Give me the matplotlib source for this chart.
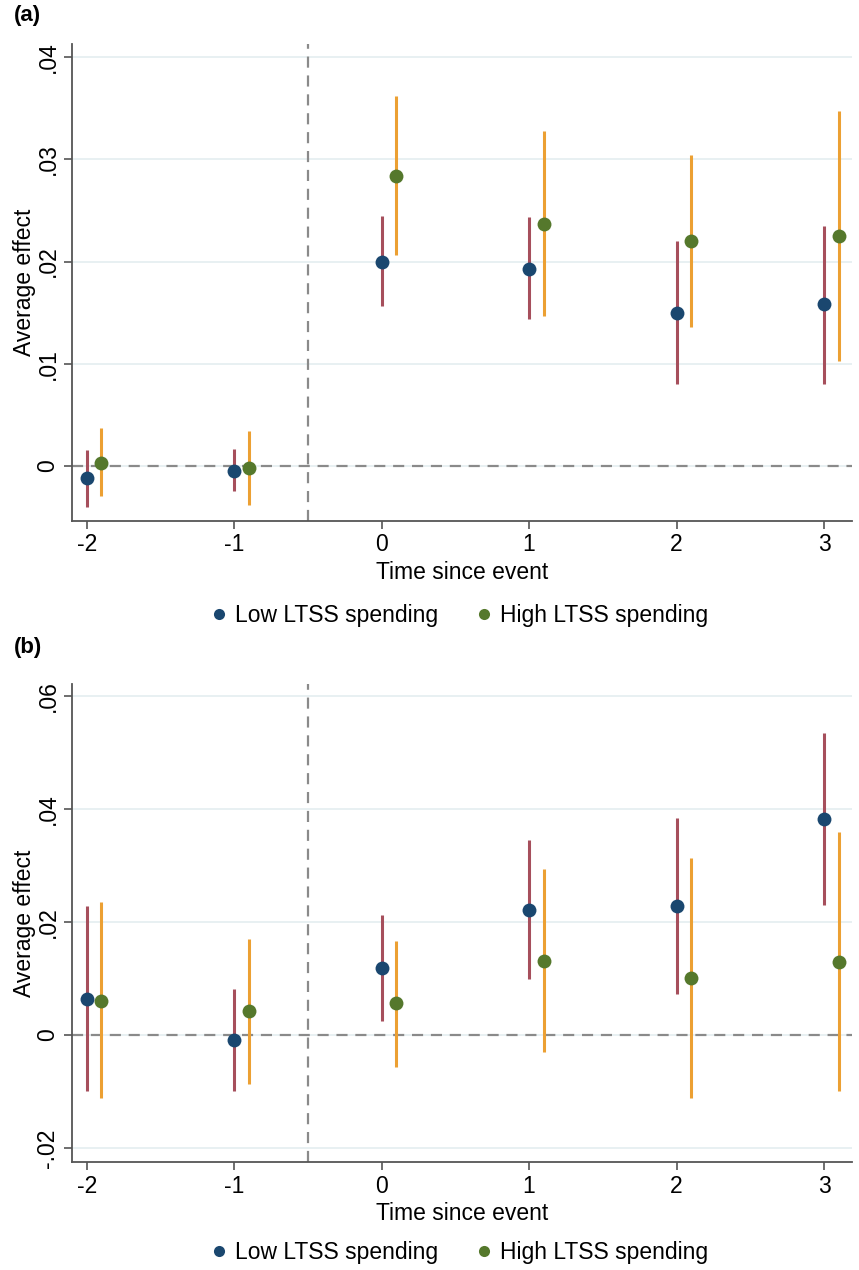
import matplotlib
matplotlib.use("Agg")
from matplotlib import pyplot as plt
from matplotlib.lines import Line2D
import numpy as np

plt.rcParams['font.family'] = ['Liberation Sans', 'DejaVu Sans']

# event time
periods = [-2, -1, 0, 1, 2, 3]
offset = 0.1  # high group drawn slightly to the right

# panel (a)
a_low = [-0.0012, -0.0005, 0.0200, 0.0193, 0.0150, 0.0158]
a_low_lo = [-0.0040, -0.0025, 0.0156, 0.0144, 0.0080, 0.0080]
a_low_hi = [0.0015, 0.0016, 0.0245, 0.0244, 0.0220, 0.0235]
a_high = [0.0003, -0.0002, 0.0284, 0.0237, 0.0220, 0.0225]
a_high_lo = [-0.0030, -0.0038, 0.0206, 0.0147, 0.0136, 0.0103]
a_high_hi = [0.0037, 0.0034, 0.0362, 0.0328, 0.0304, 0.0347]
a_yticks = [0, 0.01, 0.02, 0.03, 0.04]
a_ylabels = ["0", ".01", ".02", ".03", ".04"]

# panel (b)
b_low = [0.0064, -0.0008, 0.0119, 0.0222, 0.0228, 0.0383]
b_low_lo = [-0.0099, -0.0099, 0.0025, 0.0099, 0.0072, 0.0230]
b_low_hi = [0.0228, 0.0082, 0.0213, 0.0346, 0.0384, 0.0536]
b_high = [0.0061, 0.0042, 0.0056, 0.0132, 0.0101, 0.0129]
b_high_lo = [-0.0112, -0.0086, -0.0056, -0.0030, -0.0112, -0.0099]
b_high_hi = [0.0235, 0.0171, 0.0167, 0.0295, 0.0313, 0.0359]
b_yticks = [-0.02, 0, 0.02, 0.04, 0.06]
b_ylabels = ["-.02", "0", ".02", ".04", ".06"]

BLUE = "#1a476f"
GREEN = "#55782c"
RED = "#a64f5c"
ORANGE = "#eca033"
GRID = "#e4eef0"
FS = 16.5


def draw_panel(ax, low, low_lo, low_hi, high, high_lo, high_hi, yticks, ylabels, ylim):
    x = np.array(periods, dtype=float)
    ax.vlines(x, low_lo, low_hi, color=RED, lw=2.2, zorder=3)
    ax.vlines(x + offset, high_lo, high_hi, color=ORANGE, lw=2.2, zorder=3)
    ax.plot(x, low, 'o', color=BLUE, ms=10, zorder=4, mec='none')
    ax.plot(x + offset, high, 'o', color=GREEN, ms=10, zorder=4, mec='none')

    ax.axhline(0, color="#8a8a8a", lw=1.6, ls=(0, (5, 3.5)), zorder=2)
    ax.axvline(-0.5, color="#8a8a8a", lw=1.6, ls=(0, (5, 3.5)), zorder=2)

    ax.set_xlim(-2.1, 3.19)
    ax.set_ylim(*ylim)
    ax.set_xticks(periods)
    ax.set_xticklabels([str(p) for p in periods], fontsize=FS)
    ax.set_yticks(yticks)
    ax.set_yticklabels(ylabels, fontsize=FS, rotation=90, va='center')
    ax.yaxis.grid(True, color=GRID, lw=1.2, zorder=0)
    ax.set_axisbelow(True)
    for s in ['top', 'right']:
        ax.spines[s].set_visible(False)
    for s in ['left', 'bottom']:
        ax.spines[s].set_color("#555555")
        ax.spines[s].set_linewidth(1.3)
    ax.tick_params(direction='out', length=6, width=1.2, color="#555555", pad=3)
    ax.set_ylabel("Average effect", fontsize=FS, labelpad=0)
    ax.set_xlabel("Time since event", fontsize=FS, labelpad=3)


fig = plt.figure(figsize=(8.59, 12.70), dpi=100)

ax_a = fig.add_axes([0.0838, 0.5898, 0.9081, 0.3756])
draw_panel(ax_a, a_low, a_low_lo, a_low_hi, a_high, a_high_lo, a_high_hi,
           a_yticks, a_ylabels, (-0.0054, 0.0413))

ax_b = fig.add_axes([0.0838, 0.0850, 0.9081, 0.3764])
draw_panel(ax_b, b_low, b_low_lo, b_low_hi, b_high, b_high_lo, b_high_hi,
           b_yticks, b_ylabels, (-0.0225, 0.0622))

handles = [Line2D([], [], ls='none', marker='o', color=BLUE, ms=8, mec='none'),
           Line2D([], [], ls='none', marker='o', color=GREEN, ms=8, mec='none')]
names = ["Low LTSS spending", "High LTSS spending"]
for y in [0.515, 0.0134]:
    fig.legend(handles, names, loc='center', bbox_to_anchor=(0.533, y), ncol=2,
               frameon=False, fontsize=FS, handletextpad=0.2, columnspacing=1.5,
               handlelength=1.0)

fig.text(0.016, 0.988, "(a)", fontsize=16, fontweight='bold', va='center')
fig.text(0.016, 0.490, "(b)", fontsize=16, fontweight='bold', va='center')

plt.savefig("out.png", dpi=100)
